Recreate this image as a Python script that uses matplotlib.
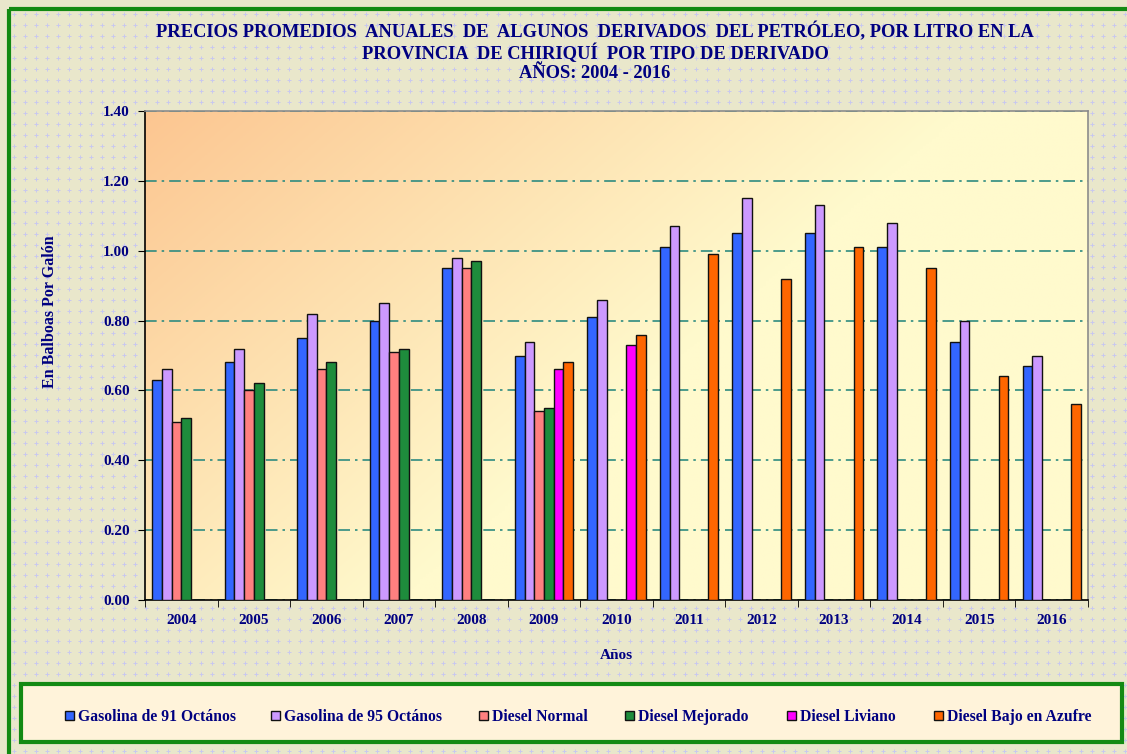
import numpy as np
import matplotlib
matplotlib.use("Agg")
import matplotlib.pyplot as plt
from matplotlib.patches import Rectangle

years = ['2004', '2005', '2006', '2007', '2008', '2009', '2010',
         '2011', '2012', '2013', '2014', '2015', '2016']

gas91 = [0.63, 0.68, 0.75, 0.80, 0.95, 0.70, 0.81, 1.01, 1.05, 1.05, 1.01, 0.74, 0.67]
gas95 = [0.66, 0.72, 0.82, 0.85, 0.98, 0.74, 0.86, 1.07, 1.15, 1.13, 1.08, 0.80, 0.70]
diesel_normal = [0.51, 0.60, 0.66, 0.71, 0.95, 0.54, np.nan, np.nan, np.nan, np.nan, np.nan, np.nan, np.nan]
diesel_mejorado = [0.52, 0.62, 0.68, 0.72, 0.97, 0.55, np.nan, np.nan, np.nan, np.nan, np.nan, np.nan, np.nan]
diesel_liviano = [np.nan, np.nan, np.nan, np.nan, np.nan, 0.66, 0.73, np.nan, np.nan, np.nan, np.nan, np.nan, np.nan]
diesel_azufre = [np.nan, np.nan, np.nan, np.nan, np.nan, 0.68, 0.76, 0.99, 0.92, 1.01, 0.95, 0.64, 0.56]

series_names = ['Gasolina de 91 Octános', 'Gasolina de 95 Octános', 'Diesel Normal',
                'Diesel Mejorado', 'Diesel Liviano', 'Diesel Bajo en Azufre']
series_values = [gas91, gas95, diesel_normal, diesel_mejorado, diesel_liviano, diesel_azufre]
series_colors = ['#3366FF', '#CC99FF', '#FF8080', '#1E8C3C', '#FF00FF', '#FF6600']

title_lines = ['PRECIOS PROMEDIOS  ANUALES  DE  ALGUNOS  DERIVADOS  DEL PETRÓLEO, POR LITRO EN LA',
               'PROVINCIA  DE CHIRIQUÍ  POR TIPO DE DERIVADO',
               'AÑOS: 2004 - 2016']

navy = '#000080'
serif = 'Liberation Serif'

fig = plt.figure(figsize=(11.27, 7.54), dpi=100)
fig.patch.set_facecolor('#E9E7CB')

# background pattern of small lavender pluses + frames
px, py = np.meshgrid(np.arange(14, 1127, 11), np.arange(14, 754, 11))
bg = fig.add_axes([0, 0, 1, 1], zorder=-10)
bg.set_xlim(0, 1127)
bg.set_ylim(754, 0)
bg.axis('off')
bg.scatter(px.ravel(), py.ravel(), marker='+', s=10, color='#C8C8F0', linewidths=0.7)
bg.add_patch(Rectangle((9, 9), 1130, 760, fill=False, edgecolor='#138A13', linewidth=3))
bg.add_patch(Rectangle((21, 684), 1101, 58, facecolor='#FFF3DA', edgecolor='#138A13', linewidth=3))

ax = fig.add_axes([145 / 1127, 1 - 600 / 754, (1088 - 145) / 1127, (600 - 111) / 754])
ax.set_facecolor('none')

# gradient for plot area
gx, gy = np.meshgrid(np.linspace(0, 1, 300), np.linspace(0, 1, 200))
t = np.clip((gx * 1.5 + gy * 0.9) / 1.3, 0, 1)
c0 = np.array([252, 198, 145]) / 255
c1 = np.array([255, 250, 205]) / 255
grad = c0[None, None, :] * (1 - t[..., None]) + c1[None, None, :] * t[..., None]
ax.imshow(grad, extent=[0, 1, 0, 1], transform=ax.transAxes, aspect='auto', zorder=0)

x = np.arange(len(years))
w = 0.134
handles = []
for j, (name, vals, col) in enumerate(zip(series_names, series_values, series_colors)):
    # soft shadow
    ax.bar(x + (j - 2.5) * w + 0.012, np.array(vals) - 0.004, width=w, color='#00000030',
           linewidth=0, zorder=2)
    bars = ax.bar(x + (j - 2.5) * w, vals, width=w, color=col, edgecolor='#111111',
                  linewidth=1.0, label=name, zorder=3)
    handles.append(bars)

ax.set_xlim(-0.5, len(years) - 0.5)
ax.set_ylim(0, 1.4)
ax.set_yticks(np.arange(0, 1.41, 0.2))
ax.set_yticklabels([f'{v:.2f}' for v in np.arange(0, 1.41, 0.2)])
ax.yaxis.grid(True, color='#2E8B80', linestyle=(0, (7, 3, 1.5, 3)), linewidth=1.2, zorder=1)
ax.set_axisbelow(True)

ax.set_xticks(x)
ax.set_xticklabels(years)
ax.set_xticks(np.arange(-0.5, len(years), 1), minor=True)
ax.tick_params(axis='x', which='major', length=0, pad=10)
ax.tick_params(axis='x', which='minor', length=5, color='black')
ax.tick_params(axis='y', length=5, pad=6)
for lab in ax.get_xticklabels() + ax.get_yticklabels():
    lab.set_fontfamily(serif)
    lab.set_fontweight('bold')
    lab.set_fontsize(11)
    lab.set_color(navy)

for s in ['top', 'right']:
    ax.spines[s].set_color('#8C8C8C')
    ax.spines[s].set_linewidth(1.2)
for s in ['left', 'bottom']:
    ax.spines[s].set_color('black')
    ax.spines[s].set_linewidth(1.2)

ax.set_xlabel('Años', fontfamily=serif, fontweight='bold', fontsize=11, color=navy, labelpad=16)
ax.set_ylabel('En Balboas Por Galón', fontfamily=serif, fontweight='bold', fontsize=11.5,
              color=navy)
ax.yaxis.set_label_coords(-0.092, 0.59)

for line, ypix in zip(title_lines, [32, 53, 73]):
    fig.text(595 / 1127, 1 - ypix / 754, line, ha='center', va='center', fontfamily=serif,
             fontweight='bold', fontsize=13.3, color=navy)

# one single-entry legend per series, placed like the original legend row
legend_x = [65, 271, 479, 625, 787, 934]
for h, name, lx in zip(handles, series_names, legend_x):
    leg = fig.legend([h], [name], loc='upper left', bbox_to_anchor=(lx / 1127, 1 - 709 / 754),
                     frameon=False, handlelength=0.55, handleheight=0.55, handletextpad=0.3,
                     borderaxespad=0, borderpad=0,
                     prop={'family': serif, 'weight': 'bold', 'size': 11.3})
    leg.get_texts()[0].set_color(navy)

fig.savefig('out.png', dpi=100, facecolor=fig.get_facecolor())
